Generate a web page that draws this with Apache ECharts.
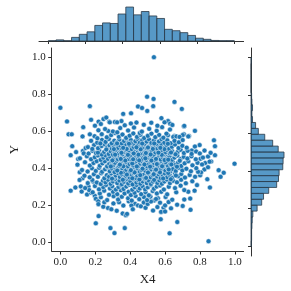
<!DOCTYPE html>
<html>
<head>
<meta charset="utf-8">
<script src="https://cdn.jsdelivr.net/npm/echarts@6/dist/echarts.min.js"></script>
<style>html,body{margin:0;padding:0;background:#fff}#c{width:291px;height:291px}</style>
</head>
<body>
<div id="c"></div>
<script>
// tick labels
const tickValues = [0, 0.2, 0.4, 0.6, 0.8, 1.0];
// top marginal histogram of X4: 24 bins on [0,1], counts
const xBinCounts = [1,4,1,13,24,33,56,65,63,97,122,94,106,90,81,42,37,30,20,10,6,2,1,1];
// right marginal histogram of Y: 32 bins on [0,1], counts
const yBinCounts = [1,2,2,3,4,6,20,35,41,58,84,90,92,104,105,108,89,71,45,24,15,5,3,5,3,2,0,0,0,0,0,1];
// scatter points [X4, Y] – sparse / outlying points
const outerPts = [[0.0,0.726],[0.169,0.735],[0.038,0.652],[0.047,0.582],[0.065,0.582],[0.068,0.518],[0.059,0.469],[0.131,0.621],[0.127,0.571],[0.169,0.582],[0.176,0.661],[0.219,0.651],[0.247,0.665],[0.263,0.673],[0.28,0.651],[0.312,0.649],[0.36,0.693],[0.405,0.696],[0.445,0.733],[0.468,0.725],[0.497,0.786],[0.536,1.0],[0.534,0.774],[0.532,0.735],[0.654,0.758],[0.696,0.72],[0.579,0.67],[0.617,0.654],[0.708,0.626],[0.771,0.601],[0.88,0.55],[0.886,0.518],[0.886,0.469],[0.864,0.435],[0.83,0.427],[0.998,0.423],[0.907,0.388],[0.936,0.374],[0.918,0.352],[0.842,0.339],[0.857,0.294],[0.783,0.307],[0.769,0.277],[0.744,0.234],[0.71,0.229],[0.701,0.194],[0.746,0.173],[0.669,0.201],[0.634,0.181],[0.591,0.185],[0.577,0.162],[0.575,0.122],[0.67,0.107],[0.626,0.046],[0.849,0.003],[0.059,0.277],[0.086,0.294],[0.117,0.3],[0.122,0.272],[0.111,0.377],[0.127,0.344],[0.11,0.335],[0.153,0.256],[0.176,0.265],[0.188,0.326],[0.197,0.249],[0.203,0.233],[0.217,0.219],[0.218,0.204],[0.203,0.1],[0.219,0.139],[0.273,0.183],[0.292,0.176],[0.287,0.074],[0.31,0.047],[0.369,0.074],[0.357,0.153],[0.375,0.144],[0.382,0.151],[0.102,0.448],[0.129,0.492],[0.134,0.479],[0.145,0.508],[0.35,0.654],[0.325,0.647],[0.498,0.709],[0.597,0.647],[0.629,0.64],[0.642,0.633],[0.71,0.628],[0.737,0.573],[0.708,0.582],[0.653,0.573],[0.733,0.571],[0.701,0.578],[0.798,0.524],[0.771,0.516],[0.753,0.494],[0.803,0.45],[0.647,0.568],[0.665,0.571],[0.683,0.568],[0.825,0.392],[0.846,0.404],[0.855,0.434],[0.801,0.36],[0.806,0.376],[0.789,0.379],[0.733,0.271],[0.71,0.28],[0.538,0.224],[0.559,0.236],[0.556,0.188],[0.6,0.197],[0.427,0.206],[0.445,0.197],[0.461,0.192],[0.407,0.197],[0.161,0.3],[0.165,0.28],[0.274,0.6],[0.283,0.647]];
// scatter points [X4, Y] – dense core
const corePts = [
[0.323,0.168],[0.415,0.176],[0.488,0.184],[0.246,0.19],[0.531,0.169],[0.6,0.164],
[0.304,0.208],[0.336,0.214],[0.361,0.196],[0.478,0.213],[0.5,0.205],[0.519,0.218],[0.252,0.214],[0.392,0.219],[0.571,0.212],[0.62,0.215],
[0.232,0.241],[0.268,0.226],[0.305,0.247],[0.331,0.229],[0.352,0.244],[0.388,0.236],[0.409,0.223],[0.431,0.248],[0.452,0.231],[0.479,0.242],[0.497,0.226],[0.516,0.245],[0.548,0.232],[0.603,0.243],[0.641,0.228],
[0.185,0.268],[0.226,0.262],[0.251,0.277],[0.279,0.255],[0.302,0.271],[0.326,0.258],[0.347,0.279],[0.368,0.262],[0.391,0.271],[0.404,0.253],[0.425,0.266],[0.447,0.278],[0.463,0.258],[0.488,0.269],[0.507,0.252],[0.529,0.275],[0.553,0.262],[0.578,0.271],[0.612,0.257],[0.664,0.268],
[0.142,0.291],[0.198,0.302],[0.221,0.284],[0.246,0.296],[0.262,0.308],[0.284,0.289],[0.297,0.301],[0.318,0.283],[0.333,0.297],[0.349,0.306],[0.362,0.286],[0.378,0.299],[0.394,0.309],[0.412,0.282],[0.426,0.296],[0.438,0.307],[0.455,0.289],[0.471,0.301],[0.486,0.284],[0.501,0.295],[0.518,0.308],[0.536,0.287],[0.552,0.299],[0.571,0.305],[0.593,0.283],[0.621,0.298],[0.657,0.291],[0.689,0.304],
[0.157,0.318],[0.183,0.335],[0.209,0.321],[0.231,0.313],[0.244,0.331],[0.259,0.322],[0.273,0.336],[0.288,0.314],[0.301,0.327],[0.314,0.339],[0.326,0.318],[0.339,0.331],[0.352,0.312],[0.364,0.325],[0.377,0.337],[0.389,0.316],[0.401,0.329],[0.414,0.311],[0.423,0.338],[0.436,0.321],[0.447,0.333],[0.459,0.315],[0.472,0.327],[0.484,0.339],[0.495,0.318],[0.507,0.331],[0.519,0.313],[0.531,0.326],[0.544,0.338],[0.556,0.319],[0.568,0.332],[0.582,0.314],[0.596,0.327],[0.611,0.337],[0.628,0.318],[0.646,0.331],[0.668,0.322],[0.692,0.336],[0.719,0.317],[0.756,0.328],
[0.138,0.358],[0.168,0.349],[0.192,0.366],[0.215,0.352],[0.234,0.371],[0.252,0.344],[0.266,0.361],[0.279,0.352],[0.292,0.37],[0.305,0.346],[0.317,0.359],[0.329,0.372],[0.341,0.351],[0.353,0.364],[0.366,0.343],[0.374,0.357],[0.386,0.369],[0.397,0.348],[0.408,0.362],[0.419,0.373],[0.43,0.346],[0.441,0.358],[0.452,0.369],[0.463,0.35],[0.474,0.363],[0.485,0.344],[0.496,0.356],[0.507,0.368],[0.518,0.349],[0.529,0.361],[0.541,0.372],[0.552,0.353],[0.563,0.366],[0.575,0.345],[0.587,0.358],[0.599,0.37],[0.612,0.35],[0.626,0.362],[0.641,0.347],[0.657,0.37],[0.674,0.355],[0.693,0.367],[0.714,0.348],[0.741,0.362],[0.772,0.352],
[0.124,0.389],[0.156,0.381],[0.181,0.398],[0.203,0.384],[0.222,0.401],[0.239,0.379],[0.256,0.393],[0.27,0.404],[0.283,0.382],[0.296,0.396],[0.308,0.378],[0.319,0.391],[0.331,0.403],[0.343,0.384],[0.355,0.397],[0.367,0.377],[0.378,0.39],[0.389,0.402],[0.399,0.381],[0.41,0.394],[0.421,0.405],[0.432,0.383],[0.443,0.396],[0.454,0.378],[0.465,0.39],[0.476,0.403],[0.487,0.385],[0.498,0.398],[0.509,0.379],[0.52,0.392],[0.531,0.404],[0.542,0.384],[0.553,0.397],[0.565,0.38],[0.577,0.393],[0.589,0.405],[0.602,0.386],[0.615,0.399],[0.629,0.381],[0.644,0.394],[0.661,0.383],[0.679,0.401],[0.699,0.387],[0.722,0.396],[0.748,0.382],[0.779,0.399],
[0.098,0.418],[0.141,0.431],[0.169,0.413],[0.19,0.427],[0.208,0.437],[0.226,0.412],[0.241,0.425],[0.255,0.436],[0.268,0.409],[0.28,0.422],[0.292,0.434],[0.303,0.415],[0.314,0.428],[0.325,0.439],[0.336,0.411],[0.347,0.424],[0.357,0.435],[0.367,0.417],[0.377,0.43],[0.387,0.409],[0.397,0.421],[0.407,0.433],[0.417,0.414],[0.427,0.427],[0.437,0.438],[0.447,0.41],[0.457,0.423],[0.467,0.435],[0.477,0.416],[0.487,0.429],[0.497,0.409],[0.507,0.421],[0.517,0.433],[0.527,0.414],[0.537,0.427],[0.547,0.438],[0.558,0.412],[0.569,0.424],[0.58,0.436],[0.592,0.418],[0.604,0.431],[0.617,0.41],[0.63,0.422],[0.644,0.434],[0.659,0.416],[0.675,0.429],[0.693,0.411],[0.712,0.425],[0.733,0.437],[0.757,0.414],[0.786,0.428],[0.812,0.419],
[0.112,0.452],[0.152,0.463],[0.176,0.447],[0.197,0.458],[0.215,0.468],[0.231,0.444],[0.246,0.456],[0.26,0.467],[0.273,0.449],[0.285,0.461],[0.297,0.442],[0.308,0.454],[0.319,0.466],[0.33,0.447],[0.341,0.459],[0.351,0.469],[0.362,0.443],[0.372,0.455],[0.382,0.466],[0.392,0.448],[0.402,0.46],[0.412,0.441],[0.422,0.453],[0.432,0.465],[0.442,0.446],[0.452,0.458],[0.462,0.469],[0.472,0.45],[0.482,0.462],[0.492,0.443],[0.502,0.455],[0.512,0.467],[0.522,0.448],[0.532,0.46],[0.542,0.441],[0.553,0.453],[0.564,0.465],[0.575,0.446],[0.587,0.458],[0.599,0.469],[0.612,0.45],[0.625,0.462],[0.639,0.443],[0.654,0.456],[0.67,0.467],[0.688,0.448],[0.707,0.46],[0.728,0.451],[0.751,0.463],[0.776,0.447],[0.817,0.456],[0.846,0.462],
[0.09,0.486],[0.162,0.478],[0.184,0.493],[0.204,0.481],[0.222,0.496],[0.237,0.473],[0.251,0.487],[0.264,0.499],[0.277,0.476],[0.289,0.49],[0.301,0.472],[0.312,0.484],[0.323,0.497],[0.334,0.479],[0.345,0.491],[0.355,0.474],[0.365,0.486],[0.375,0.498],[0.385,0.477],[0.395,0.489],[0.405,0.471],[0.415,0.483],[0.425,0.495],[0.435,0.476],[0.445,0.488],[0.455,0.499],[0.465,0.481],[0.475,0.493],[0.485,0.474],[0.495,0.486],[0.505,0.498],[0.515,0.478],[0.525,0.49],[0.535,0.472],[0.545,0.484],[0.556,0.496],[0.567,0.477],[0.578,0.489],[0.59,0.473],[0.602,0.485],[0.614,0.497],[0.627,0.479],[0.641,0.491],[0.656,0.474],[0.672,0.487],[0.689,0.498],[0.708,0.481],[0.729,0.493],[0.752,0.476],[0.778,0.489],[0.799,0.479],[0.826,0.494],[0.861,0.482],[0.215,0.483],
[0.158,0.513],[0.193,0.524],[0.216,0.507],[0.236,0.519],[0.253,0.529],[0.268,0.511],[0.282,0.523],[0.295,0.504],[0.307,0.516],[0.319,0.528],[0.331,0.509],[0.343,0.521],[0.354,0.503],[0.365,0.515],[0.376,0.527],[0.387,0.508],[0.398,0.52],[0.409,0.502],[0.42,0.514],[0.431,0.526],[0.442,0.507],[0.453,0.519],[0.464,0.501],[0.475,0.513],[0.486,0.525],[0.497,0.506],[0.508,0.518],[0.519,0.53],[0.531,0.511],[0.543,0.523],[0.555,0.505],[0.567,0.517],[0.58,0.528],[0.594,0.509],[0.608,0.521],[0.623,0.503],[0.639,0.515],[0.657,0.527],[0.677,0.508],[0.699,0.52],[0.724,0.51],[0.183,0.503],[0.263,0.5],[0.447,0.53],
[0.176,0.547],[0.211,0.537],[0.238,0.552],[0.259,0.541],[0.278,0.557],[0.294,0.534],[0.309,0.548],[0.324,0.538],[0.338,0.553],[0.352,0.533],[0.365,0.546],[0.378,0.558],[0.391,0.539],[0.404,0.551],[0.417,0.532],[0.43,0.545],[0.443,0.557],[0.456,0.538],[0.469,0.55],[0.482,0.531],[0.495,0.543],[0.508,0.555],[0.522,0.536],[0.536,0.549],[0.55,0.531],[0.565,0.544],[0.58,0.556],[0.596,0.537],[0.613,0.55],[0.632,0.534],[0.654,0.547],[0.679,0.539],[0.229,0.533],[0.403,0.534],[0.701,0.551],
[0.196,0.572],[0.237,0.583],[0.266,0.566],[0.291,0.578],[0.314,0.589],[0.335,0.569],[0.356,0.581],[0.377,0.563],[0.397,0.575],[0.418,0.587],[0.439,0.568],[0.459,0.58],[0.48,0.562],[0.501,0.574],[0.522,0.586],[0.544,0.567],[0.566,0.579],[0.59,0.564],[0.616,0.577],[0.212,0.561],[0.455,0.589],[0.608,0.586],
[0.218,0.604],[0.256,0.611],[0.301,0.598],[0.343,0.616],[0.388,0.603],[0.422,0.619],[0.467,0.597],[0.509,0.612],[0.552,0.601],[0.583,0.621],[0.628,0.608],[0.326,0.593],
[0.232,0.638],[0.369,0.631],[0.436,0.646],[0.478,0.634],[0.521,0.645],[0.556,0.629],[0.198,0.629],[0.404,0.641]
];
// scatter points [X4, Y] – extra points in the densest centre
const centrePts = [
[0.296,0.342],[0.358,0.336],[0.412,0.344],[0.453,0.338],[0.491,0.346],[0.537,0.335],[0.589,0.343],[0.633,0.339],
[0.311,0.377],[0.347,0.374],[0.381,0.364],[0.425,0.376],[0.458,0.361],[0.502,0.375],[0.535,0.366],[0.571,0.376],[0.618,0.373],[0.662,0.359],
[0.289,0.408],[0.326,0.386],[0.361,0.409],[0.404,0.388],[0.438,0.408],[0.471,0.396],[0.514,0.407],[0.548,0.391],[0.583,0.409],[0.621,0.392],[0.668,0.407],
[0.298,0.441],[0.341,0.418],[0.372,0.44],[0.412,0.424],[0.452,0.441],[0.482,0.419],[0.522,0.44],[0.553,0.421],[0.597,0.443],[0.636,0.419],[0.684,0.439],
[0.314,0.472],[0.346,0.449],[0.387,0.471],[0.417,0.447],[0.447,0.472],[0.487,0.452],[0.517,0.473],[0.548,0.449],[0.581,0.471],[0.618,0.445],[0.66,0.474],
[0.307,0.502],[0.35,0.482],[0.38,0.503],[0.42,0.479],[0.46,0.501],[0.49,0.481],[0.53,0.503],[0.562,0.483],[0.596,0.502],[0.634,0.484],
[0.325,0.533],[0.36,0.509],[0.393,0.531],[0.436,0.512],[0.469,0.532],[0.502,0.511],[0.538,0.533],[0.573,0.509],[0.616,0.531]
];

const FONT = 'Liberation Serif';
const TXT = '#222';
const AX = '#333';
const BLUE = '#1f77b4';
const BAR_FILL = 'rgba(31,119,180,0.75)';
const BAR_EDGE = '#2b3a48';

const xBinW = 1 / xBinCounts.length;
const yBinW = 1 / yBinCounts.length;
const xHistData = xBinCounts.map((c, i) => [i * xBinW, (i + 1) * xBinW, c]);
const yHistData = yBinCounts.map((c, i) => [c, i * yBinW, (i + 1) * yBinW]);

const chart = echarts.init(document.getElementById('c'), null, {renderer: 'canvas'});
const lineStyle = {color: AX, width: 1};
chart.setOption({
  animation: false,
  grid: [
    {left: 39, top: 48, width: 204.6, height: 208},
    {left: 39, top: 4, width: 204.6, height: 37},
    {left: 251, top: 48, width: 35, height: 208}
  ],
  xAxis: [
    {gridIndex: 0, type: 'value', min: -0.05, max: 1.05,
     axisLine: {show: true, onZero: false, lineStyle},
     axisTick: {show: true, length: 3.5, customValues: tickValues, lineStyle},
     axisLabel: {customValues: tickValues, formatter: v => v.toFixed(1), margin: 6, fontFamily: FONT, fontSize: 11, color: TXT},
     splitLine: {show: false},
     name: 'X4', nameLocation: 'middle', nameGap: 22,
     nameTextStyle: {fontFamily: FONT, fontSize: 13, color: TXT}},
    {gridIndex: 1, type: 'value', min: -0.05, max: 1.05,
     axisLine: {show: true, onZero: false, lineStyle},
     axisTick: {show: true, length: 3, customValues: tickValues, lineStyle},
     axisLabel: {show: false}, splitLine: {show: false}},
    {gridIndex: 2, type: 'value', min: 0, max: 114.5, show: false}
  ],
  yAxis: [
    {gridIndex: 0, type: 'value', min: -0.05, max: 1.05,
     axisLine: {show: true, onZero: false, lineStyle},
     axisTick: {show: true, length: 3.5, customValues: tickValues, lineStyle},
     axisLabel: {customValues: tickValues, formatter: v => v.toFixed(1), margin: 6, fontFamily: FONT, fontSize: 11, color: TXT},
     splitLine: {show: false},
     name: 'Y', nameLocation: 'middle', nameGap: 30, nameRotate: 90,
     nameTextStyle: {fontFamily: FONT, fontSize: 13, color: TXT}},
    {gridIndex: 1, type: 'value', min: 0, max: 133, show: false},
    {gridIndex: 2, type: 'value', min: -0.05, max: 1.05,
     axisLine: {show: true, onZero: false, lineStyle},
     axisTick: {show: true, length: 3, customValues: tickValues, lineStyle},
     axisLabel: {show: false}, splitLine: {show: false}}
  ],
  series: [
    {type: 'scatter', xAxisIndex: 0, yAxisIndex: 0, data: outerPts.concat(corePts, centrePts),
     symbol: 'circle', symbolSize: 5,
     itemStyle: {color: BLUE, borderColor: '#fff', borderWidth: 0.5, opacity: 1}},
    {type: 'custom', xAxisIndex: 1, yAxisIndex: 1, data: xHistData,
     encode: {x: [0, 1], y: 2},
     renderItem: (params, api) => {
       const p0 = api.coord([api.value(0), 0]);
       const p1 = api.coord([api.value(1), api.value(2)]);
       return {type: 'rect', shape: {x: p0[0], y: p1[1], width: p1[0] - p0[0], height: p0[1] - p1[1]},
               style: {fill: BAR_FILL, stroke: BAR_EDGE, lineWidth: 0.8}};
     }},
    {type: 'custom', xAxisIndex: 2, yAxisIndex: 2, data: yHistData,
     encode: {x: 0, y: [1, 2]},
     renderItem: (params, api) => {
       const p0 = api.coord([0, api.value(1)]);
       const p1 = api.coord([api.value(0), api.value(2)]);
       return {type: 'rect', shape: {x: p0[0], y: p1[1], width: p1[0] - p0[0], height: p0[1] - p1[1]},
               style: {fill: BAR_FILL, stroke: BAR_EDGE, lineWidth: 0.8}};
     }}
  ]
});
</script>
</body>
</html>
